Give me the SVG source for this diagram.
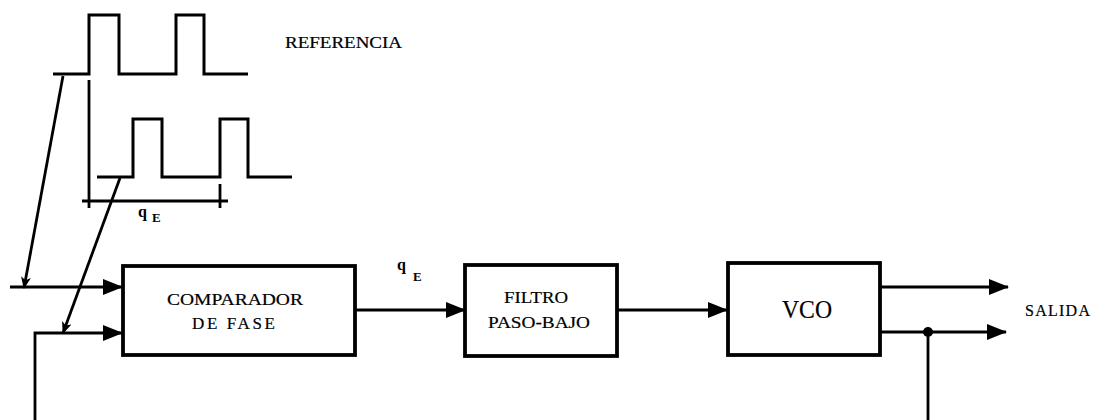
<svg xmlns="http://www.w3.org/2000/svg" width="1095" height="420" viewBox="0 0 1095 420">
  <defs>
    <style>
      .wave { fill: none; stroke: #000; stroke-width: 3; stroke-linejoin: miter; }
      .line { fill: none; stroke: #000; stroke-width: 2.8; }
      .box { fill: #fff; stroke: #000; stroke-width: 3.8; }
      .lbl { font-family: 'Liberation Serif', 'DejaVu Serif', serif; fill: #000; stroke: #000; stroke-width: 0.2; }
      .sym { font-family: 'Liberation Serif', 'DejaVu Serif', serif; font-weight: bold; fill: #000; }
    </style>
    <marker id="big" viewBox="0 0 20 16" refX="19" refY="8" markerWidth="20" markerHeight="16" markerUnits="userSpaceOnUse" orient="auto">
      <path d="M0,0 L20,8 L0,16 Z" fill="#000"/>
    </marker>
    <marker id="small" viewBox="0 0 12 10" refX="11" refY="5" markerWidth="12" markerHeight="10" markerUnits="userSpaceOnUse" orient="auto">
      <path d="M0,0 L12,5 L0,10 L3,5 Z" fill="#000"/>
    </marker>
  </defs>

  <!-- timing waveforms -->
  <g id="waveforms">
    <path class="wave" d="M53,74 H89 V15 H119 V74 H176 V15 H204 V74 H248"/>
    <path class="wave" d="M97,177 H133 V119 H162 V177 H220 V119 H248 V177 H292"/>
    <line class="line" x1="89" y1="80" x2="89" y2="208"/>
    <line class="line" x1="220" y1="184" x2="220" y2="208"/>
    <line class="line" x1="82" y1="201" x2="228" y2="201"/>
    <text class="sym" x="138" y="217" font-size="16">q</text>
    <text class="sym" x="152" y="222" font-size="13">E</text>
    <text class="lbl" x="285" y="48" font-size="16" textLength="117" lengthAdjust="spacingAndGlyphs">REFERENCIA</text>
  </g>

  <!-- connectors -->
  <g id="connectors">
    <line class="line" x1="63" y1="76" x2="24" y2="288" marker-end="url(#small)"/>
    <line class="line" x1="120" y1="178" x2="63" y2="333" marker-end="url(#small)"/>
    <line class="line" x1="10" y1="287" x2="122" y2="287" marker-end="url(#big)"/>
    <polyline class="line" points="35,420 35,333 122,333" marker-end="url(#big)"/>
    <line class="line" x1="355" y1="310" x2="465" y2="310" marker-end="url(#big)"/>
    <line class="line" x1="617" y1="310" x2="727" y2="310" marker-end="url(#big)"/>
    <line class="line" x1="880" y1="287" x2="1008" y2="287" marker-end="url(#big)"/>
    <line class="line" x1="880" y1="332" x2="1006" y2="332" marker-end="url(#big)"/>
    <line class="line" x1="928" y1="332" x2="928" y2="420"/>
    <circle cx="928" cy="332" r="5" fill="#000"/>
    <text class="sym" x="397" y="270" font-size="16">q</text>
    <text class="sym" x="413" y="281" font-size="13">E</text>
  </g>

  <g id="comparador">
    <rect class="box" x="123" y="266" width="232" height="89"/>
    <text class="lbl" x="167" y="305" font-size="17" textLength="136" lengthAdjust="spacingAndGlyphs">COMPARADOR</text>
    <text class="lbl" x="192" y="329" font-size="17" textLength="83" lengthAdjust="spacing">DE FASE</text>
  </g>

  <g id="filtro">
    <rect class="box" x="465" y="265" width="152" height="91"/>
    <text class="lbl" x="504" y="303" font-size="17" textLength="64" lengthAdjust="spacingAndGlyphs">FILTRO</text>
    <text class="lbl" x="488" y="328" font-size="17" textLength="102" lengthAdjust="spacingAndGlyphs">PASO-BAJO</text>
  </g>

  <g id="vco">
    <rect class="box" x="728" y="263" width="152" height="92"/>
    <text class="lbl" x="782" y="318" font-size="25" textLength="50" lengthAdjust="spacingAndGlyphs">VCO</text>
  </g>

  <g id="salida">
    <text class="lbl" x="1025" y="316" font-size="16" textLength="65" lengthAdjust="spacing">SALIDA</text>
  </g>
</svg>
